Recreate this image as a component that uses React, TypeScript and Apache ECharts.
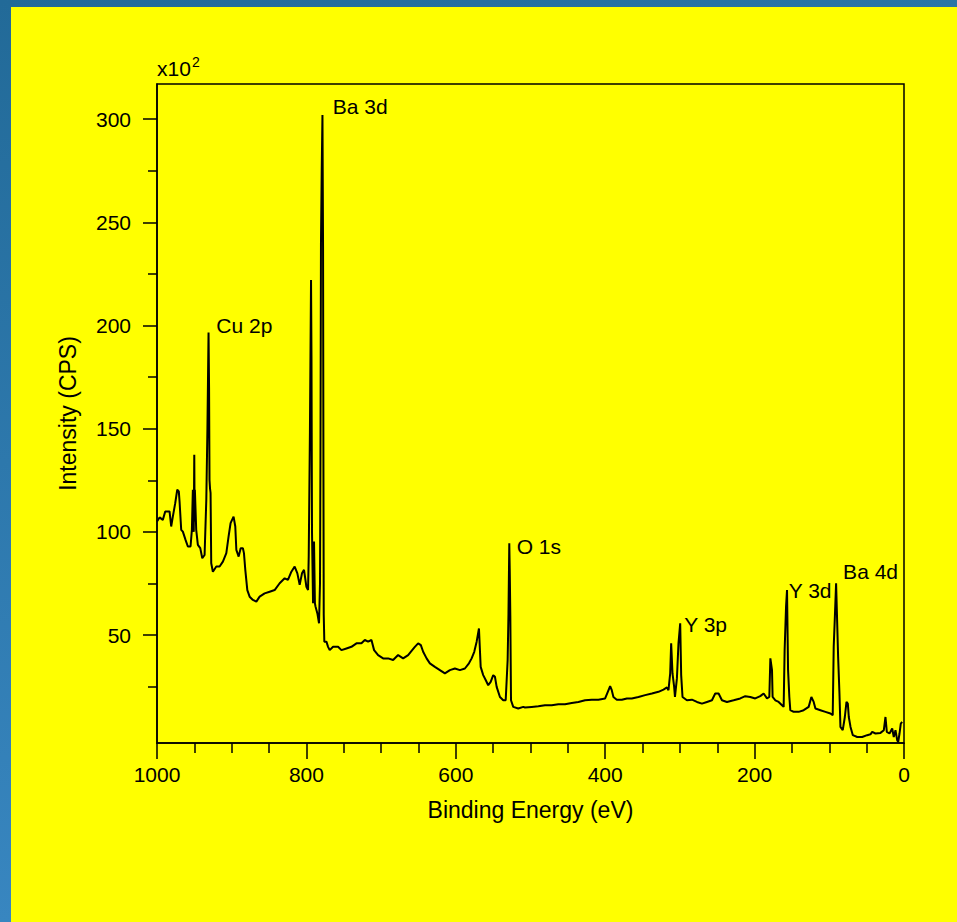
import React, { useEffect, useRef } from "react";
import * as echarts from "echarts";

// Binding energy (eV), read left to right (high to low energy)
const bindingEnergy = [
  1000, 996.6, 992.2, 989, 983.2, 981, 978.8, 975.6, 972.9, 970.8, 969.8, 967.6, 965.4, 961.8, 958.7, 955.1,
  953.3, 952, 950.8, 950.1, 949.6, 949.3, 947.5, 945.3, 942.1, 939.4, 936.3, 934, 932.5, 931, 930.3, 929.7,
  929, 928.3, 927.4, 925.2, 920.6, 916.2, 911.8, 907.2, 904.2, 901.5, 897.5, 895.2, 893.8, 890.7, 888, 885,
  883.6, 881.8, 879.1, 876, 871.6, 867, 862.6, 855.9, 849.2, 842.5, 835.8, 829.1, 824.7, 820.1, 815.7, 812.1,
  809, 805.9, 803.2, 800, 797.8, 796.9, 795.3, 793.8, 793.2, 792.5, 791.1, 789.8, 788.6, 787.9, 785.3, 783.1,
  781.8, 781.2, 780.5, 779.5, 778.5, 777.7, 777.2, 776.8, 776, 773.2, 771, 768.8, 764.3, 757.6, 753.1, 746.4,
  739.7, 733, 726.3, 721.8, 717.4, 712.9, 709.4, 704, 697.3, 690.6, 683.9, 677.2, 670.5, 663.8, 658.4, 654.8,
  650.4, 646.8, 643.7, 639.1, 634.7, 628, 621.3, 614.6, 607.9, 601.2, 594.5, 587.8, 582.4, 578.8, 575.3, 572.1,
  569, 566.7, 563.3, 560, 556.6, 553.3, 549.9, 547.6, 545.3, 540.9, 536.5, 533.2, 530.6, 529.5, 528.4, 527.8,
  527, 526.5, 526.1, 523.1, 516.4, 509.7, 507.4, 498.4, 489.5, 480.6, 471.6, 462.7, 453.8, 444.8, 435.9, 426.9,
  418, 409.1, 400.1, 396.5, 393.4, 391.2, 389, 384.5, 377.8, 371, 364.4, 355.5, 346.5, 337.5, 328.7, 322,
  317.4, 315.3, 313, 311.7, 309.9, 307.7, 306.6, 304, 301.9, 299.6, 298.3, 296.5, 290.6, 283.9, 277.2, 270.5,
  263.8, 257.1, 252.7, 248.2, 243.7, 237, 228.1, 219.2, 212.5, 205.8, 199.1, 192.4, 187.9, 183.4, 180.3, 178.9,
  176.7, 175.9, 172.2, 167.8, 163.3, 161.1, 159.8, 157.9, 156.6, 155.2, 153.5, 152.2, 147.7, 141, 134.3, 127.6,
  124, 120.9, 118.6, 111.9, 105.2, 98.5, 95.4, 94.1, 92.7, 90.9, 88.2, 86.4, 85.1, 82, 79.2, 77,
  75.2, 73.9, 71.6, 68.5, 62.6, 56, 49.3, 44.9, 42.6, 38.2, 31.5, 27, 24.8, 23, 19.4, 15.8,
  13.7, 11.4, 9.1, 7.8, 6, 4.3, 2.5,
];

// Intensity (CPS, x10^2)
const intensity = [
  105, 107, 105.8, 109.9, 109.9, 102.6, 107.4, 113.9, 120.4, 119.6, 114.7, 101, 100.1, 96.1, 92.9, 92.9,
  101, 120.4, 100, 137.4, 105, 120.4, 101, 93.7, 92.1, 87.2, 88.8, 115.5, 150, 196.6, 170, 125,
  121, 118.9, 84.8, 80.7, 83.2, 83.2, 85.6, 89.7, 97.7, 104.2, 107.4, 102.6, 91.3, 88, 92.1, 92.1,
  89.7, 81.6, 71.8, 68.6, 67, 66.2, 68.6, 70.2, 71, 71.8, 75.1, 77.5, 76.7, 80.7, 83.2, 79.9,
  74.3, 79.9, 81.6, 73.4, 71.8, 88, 148, 222, 185, 100, 65.4, 95.3, 65.4, 64, 60.5, 55.7,
  75, 133.3, 240, 275, 302, 238, 130, 60, 46.8, 46.8, 44.3, 42.7, 44.3, 44.3, 42.7, 43.5,
  44.3, 46, 46, 47.6, 46.8, 47.6, 42.7, 40.3, 38.7, 38.7, 37.9, 40.3, 38.7, 40.3, 42.7, 44.3,
  46, 45.1, 41.9, 38.7, 36.3, 34.6, 33, 31.4, 33, 33.8, 33, 33.8, 36.3, 38.7, 41.9, 46.8,
  53.2, 34.6, 30.6, 28.2, 25.7, 27.3, 30.6, 29.8, 24.9, 20, 18.4, 18.4, 37.9, 60, 94.5, 82,
  59, 36, 18.4, 15.2, 14.4, 15.2, 14.9, 15.2, 15.5, 16, 16, 16.5, 16.5, 17.1, 17.6, 18.4,
  18.7, 18.7, 19.3, 22.5, 25.2, 23.3, 20, 18.7, 18.7, 19.3, 19.3, 20, 20.9, 21.7, 22.5, 23.6,
  24.6, 23.3, 31.4, 46, 31.4, 24.9, 20, 29, 46, 55.7, 30.6, 20, 18.4, 18.7, 17.6, 16.8,
  17.6, 18.4, 21.7, 21.7, 18.4, 17.6, 18.4, 19.3, 20.4, 20, 19.3, 20.4, 21.7, 19.3, 20, 38.7,
  33, 20, 18.4, 17.6, 16, 15.2, 42.7, 63.7, 71.8, 33, 20, 13.6, 12.8, 12.8, 13.6, 15.2,
  20, 17.6, 14.4, 13.6, 12.8, 12, 11.2, 44.3, 57.3, 75.1, 39.5, 21.7, 5.5, 3.9, 10.3, 17.6,
  16.8, 10.3, 5.5, 1.5, 0.6, 0.6, 1.5, 1.9, 3.1, 2.3, 2.6, 3.9, 10.3, 3.1, 2.3, 4.7,
  0.6, 3.9, -1, -1.8, 2.3, 7.1, 7.9,
];

// Peak annotations (anchor = left edge / vertical centre of the text)
const peakNames = ["Ba 3d", "Cu 2p", "O 1s", "Y 3p", "Y 3d", "Ba 4d"];
const peakLabelEnergy = [764.7, 920.6, 518.5, 294.2, 154.4, 81.5];
const peakLabelIntensity = [306, 200.2, 92.8, 55.3, 71.8, 80.7];

const yMajorTicks = [50, 100, 150, 200, 250, 300];
const yMinorTicks = [25, 75, 125, 175, 225, 275];

export default function App() {
  const ref = useRef<HTMLDivElement>(null);

  useEffect(() => {
    document.body.style.margin = "0";
    const chart = echarts.init(ref.current!, null, { renderer: "svg" });
    const font = "'Liberation Sans', Arial, Helvetica, sans-serif";
    const black = "#000000";
    const lineData = bindingEnergy.map((e, i) => [e, intensity[i]]);
    const labelData = peakNames.map((n, i) => [peakLabelEnergy[i], peakLabelIntensity[i], n]);
    const gridRect = { left: 157, top: 84, width: 747, height: 659 };
    const tickLine = { color: black, width: 1.5 };

    chart.setOption({
      animation: false,
      backgroundColor: "#ffff00",
      textStyle: { fontFamily: font },
      grid: [
        { ...gridRect, show: true, borderColor: black, borderWidth: 1.5, backgroundColor: "transparent" },
        { ...gridRect, show: false },
      ],
      xAxis: [
        {
          type: "value",
          gridIndex: 0,
          min: 0,
          max: 1000,
          interval: 200,
          inverse: true,
          name: "Binding Energy (eV)",
          nameLocation: "middle",
          nameGap: 55,
          nameTextStyle: { color: black, fontSize: 23, fontFamily: font },
          axisLine: { show: true, onZero: false, lineStyle: tickLine },
          axisTick: { show: true, length: 16, lineStyle: tickLine },
          minorTick: { show: true, splitNumber: 4, length: 10, lineStyle: tickLine },
          splitLine: { show: false },
          minorSplitLine: { show: false },
          axisLabel: {
            color: black,
            fontSize: 21,
            margin: 21,
            fontFamily: font,
            formatter: (v: number) => String(v),
          },
        },
        {
          type: "value",
          gridIndex: 1,
          min: 0,
          max: 1000,
          inverse: true,
          show: false,
        },
      ],
      yAxis: [
        {
          type: "value",
          gridIndex: 0,
          min: -2.3,
          max: 317,
          position: "left",
          name: "Intensity (CPS)",
          nameLocation: "middle",
          nameGap: 78,
          nameTextStyle: { color: black, fontSize: 23, fontFamily: font },
          axisLine: { show: true, onZero: false, lineStyle: tickLine },
          axisTick: { show: true, length: 14, customValues: yMajorTicks, lineStyle: tickLine },
          axisLabel: { show: true, customValues: yMajorTicks, color: black, fontSize: 21, margin: 26, fontFamily: font },
          splitLine: { show: false },
        },
        {
          type: "value",
          gridIndex: 1,
          min: -2.3,
          max: 317,
          position: "left",
          axisLine: { show: false, onZero: false },
          axisTick: { show: true, length: 9, customValues: yMinorTicks, lineStyle: tickLine },
          axisLabel: { show: false },
          splitLine: { show: false },
        },
      ],
      series: [
        {
          type: "line",
          data: lineData,
          xAxisIndex: 0,
          yAxisIndex: 0,
          symbol: "none",
          lineStyle: { color: black, width: 2 },
          z: 3,
        },
        {
          type: "scatter",
          data: labelData,
          xAxisIndex: 0,
          yAxisIndex: 0,
          symbolSize: 0,
          itemStyle: { opacity: 1, color: black },
          z: 4,
          label: {
            show: true,
            position: "right",
            distance: 0,
            formatter: (p: any) => p.data[2],
            color: black,
            opacity: 1,
            fontSize: 21,
            fontFamily: font,
          },
        },
      ],
      graphic: [
        {
          type: "rect",
          shape: { x: 0, y: 0, width: 957, height: 7 },
          style: {
            fill: new echarts.graphic.LinearGradient(0, 0, 1, 0, [
              { offset: 0, color: "#226a98" },
              { offset: 1, color: "#2a76a6" },
            ]),
          },
          silent: true,
        },
        {
          type: "rect",
          shape: { x: 0, y: 0, width: 11, height: 922 },
          style: {
            fill: new echarts.graphic.LinearGradient(0, 0, 0, 1, [
              { offset: 0, color: "#226a98" },
              { offset: 1, color: "#3886c0" },
            ]),
          },
          silent: true,
        },
        {
          type: "text",
          x: 157,
          y: 68,
          style: { text: "x10", fontSize: 21, fontFamily: font, fill: black, textVerticalAlign: "middle", textAlign: "left" },
          silent: true,
        },
        {
          type: "text",
          x: 192,
          y: 62,
          style: { text: "2", fontSize: 14, fontFamily: font, fill: black, textVerticalAlign: "middle", textAlign: "left" },
          silent: true,
        },
      ],
    });

    return () => {
      chart.dispose();
    };
  }, []);

  return <div ref={ref} style={{ width: 957, height: 922 }} />;
}
